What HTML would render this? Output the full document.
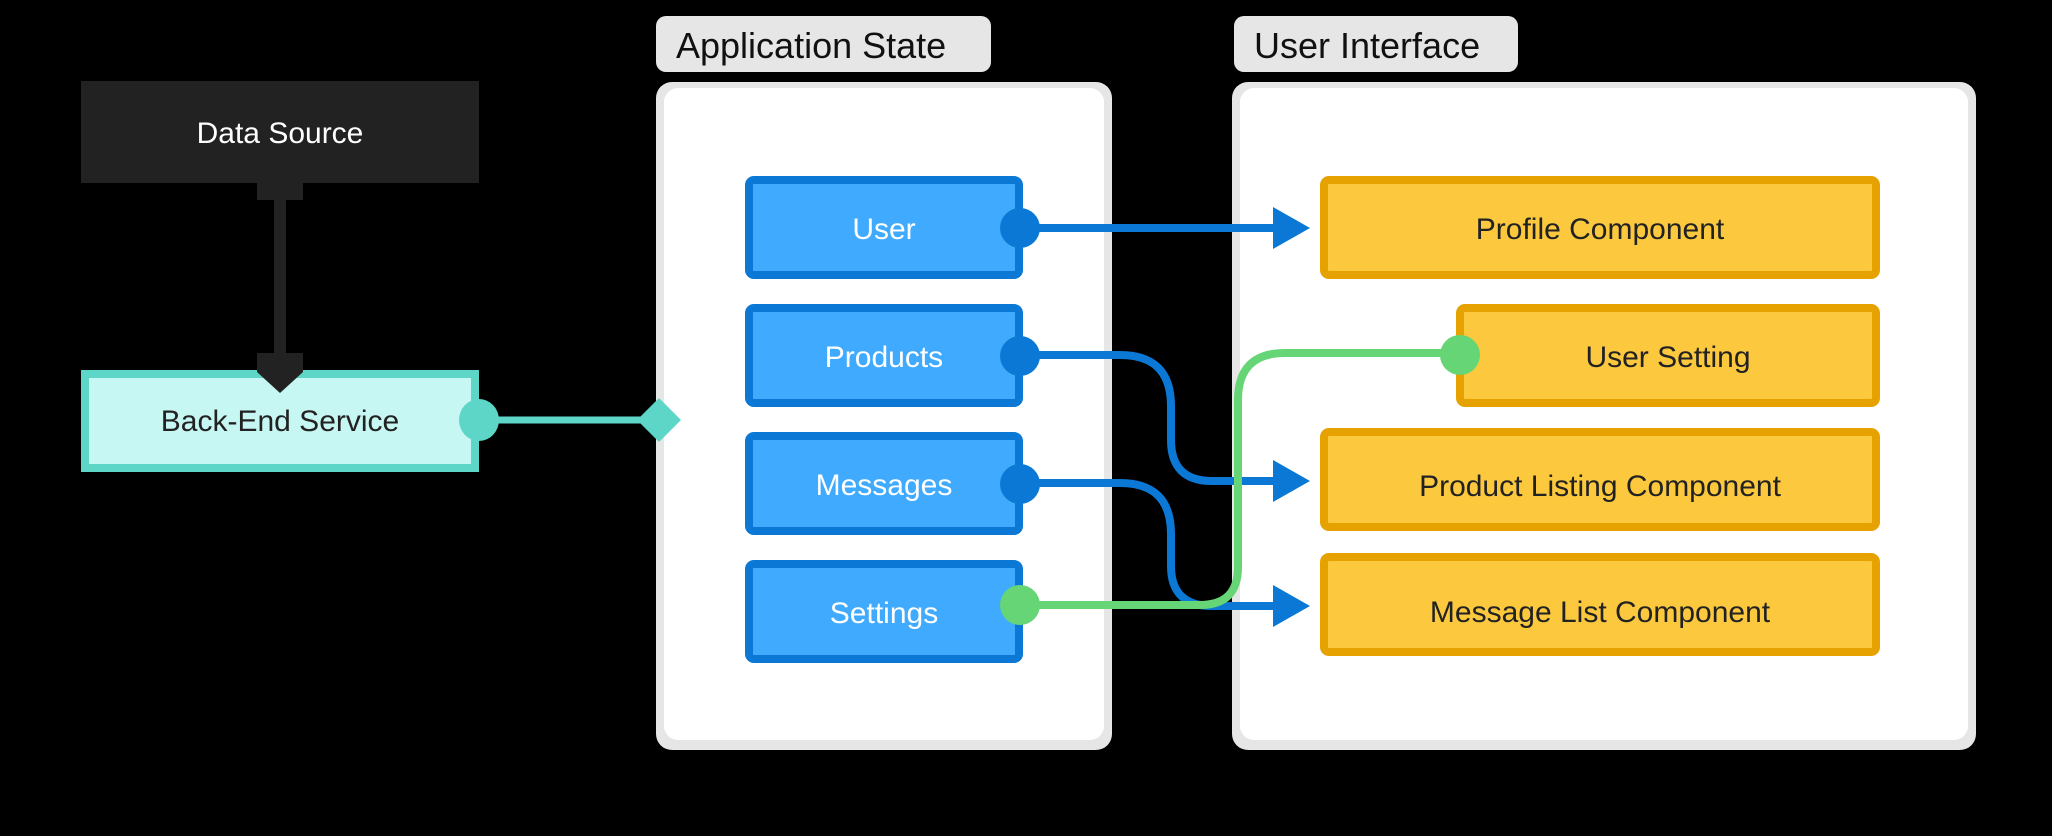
<!DOCTYPE html>
<html><head><meta charset="utf-8"><style>
html,body{margin:0;padding:0;background:#000;}
svg{display:block}
text{font-family:"Liberation Sans",sans-serif;}
</style></head><body>
<svg width="2052" height="836" viewBox="0 0 2052 836" xmlns="http://www.w3.org/2000/svg">
<rect width="2052" height="836" fill="#000"/>
<!-- group labels -->
<rect x="656" y="16" width="335" height="56" rx="10" fill="#e6e6e6"/>
<text x="676" y="58" font-size="36" fill="#111">Application State</text>
<rect x="1234" y="16" width="284" height="56" rx="10" fill="#e6e6e6"/>
<text x="1254" y="58" font-size="36" fill="#111">User Interface</text>
<!-- panels -->
<rect x="656" y="82" width="456" height="668" rx="16" fill="#e6e6e6"/>
<rect x="664" y="88" width="440" height="652" rx="14" fill="#fff"/>
<rect x="1232" y="82" width="744" height="668" rx="16" fill="#e6e6e6"/>
<rect x="1240" y="88" width="728" height="652" rx="14" fill="#fff"/>
<!-- data source -->
<rect x="81" y="81" width="398" height="102" fill="#222"/>
<text x="280" y="143" font-size="30" fill="#fff" text-anchor="middle">Data Source</text>
<!-- back-end -->
<rect x="85" y="374" width="390" height="94" fill="#c6f7f2" stroke="#5dd6c8" stroke-width="8"/>
<text x="280" y="431" font-size="30" fill="#222" text-anchor="middle">Back-End Service</text>
<!-- black connector -->
<line x1="280" y1="190" x2="280" y2="360" stroke="#222" stroke-width="12"/>
<circle cx="280" cy="180" r="20" fill="#222"/>
<rect x="257" y="178" width="46" height="22" fill="#222"/>
<path d="M257 353 L303 353 L303 372 L280 393 L257 372 Z" fill="#222"/>
<!-- teal connector -->
<line x1="479" y1="420" x2="655" y2="420" stroke="#5dd6c8" stroke-width="7"/>
<ellipse cx="479" cy="420" rx="20" ry="21" fill="#5dd6c8"/>
<path d="M659 398 L681 420 L659 442 L637 420 Z" fill="#5dd6c8"/>
<!-- blue nodes -->
<g fill="#40aaff" stroke="#0a78d4" stroke-width="8">
<rect x="749" y="180" width="270" height="95" rx="5"/>
<rect x="749" y="308" width="270" height="95" rx="5"/>
<rect x="749" y="436" width="270" height="95" rx="5"/>
<rect x="749" y="564" width="270" height="95" rx="5"/>
</g>
<g font-size="30" fill="#fff" text-anchor="middle">
<text x="884" y="239">User</text>
<text x="884" y="367">Products</text>
<text x="884" y="495">Messages</text>
<text x="884" y="623">Settings</text>
</g>
<!-- yellow nodes -->
<g fill="#fcc83e" stroke="#e6a200" stroke-width="8">
<rect x="1324" y="180" width="552" height="95" rx="5"/>
<rect x="1460" y="308" width="416" height="95" rx="5"/>
<rect x="1324" y="432" width="552" height="95" rx="5"/>
<rect x="1324" y="557" width="552" height="95" rx="5"/>
</g>
<g font-size="30" fill="#222" text-anchor="middle">
<text x="1600" y="239">Profile Component</text>
<text x="1668" y="367">User Setting</text>
<text x="1600" y="496">Product Listing Component</text>
<text x="1600" y="622">Message List Component</text>
</g>
<!-- connectors -->
<g fill="none" stroke-width="8">
<path d="M1023 228 H1280" stroke="#0a78d4"/>
<path d="M1023 355 H1120 Q1171 355 1171 406 V440 Q1171 481 1212 481 H1280" stroke="#0a78d4"/>
<path d="M1023 483 H1120 Q1171 483 1171 534 V566 Q1171 606 1212 606 H1280" stroke="#0a78d4"/>
<path d="M1023 605 H1200 Q1238 605 1238 567 V400 Q1238 353 1285 353 H1460" stroke="#66d575"/>
</g>
<g fill="#0a78d4">
<circle cx="1020" cy="228" r="20"/>
<circle cx="1020" cy="356" r="20"/>
<circle cx="1020" cy="484" r="20"/>
<path d="M1273 207 L1310 228 L1273 249 Z"/>
<path d="M1273 460 L1310 481 L1273 502 Z"/>
<path d="M1273 585 L1310 606 L1273 627 Z"/>
</g>
<circle cx="1020" cy="605" r="20" fill="#66d575"/>
<circle cx="1460" cy="355" r="20" fill="#66d575"/>
</svg>
</body></html>
